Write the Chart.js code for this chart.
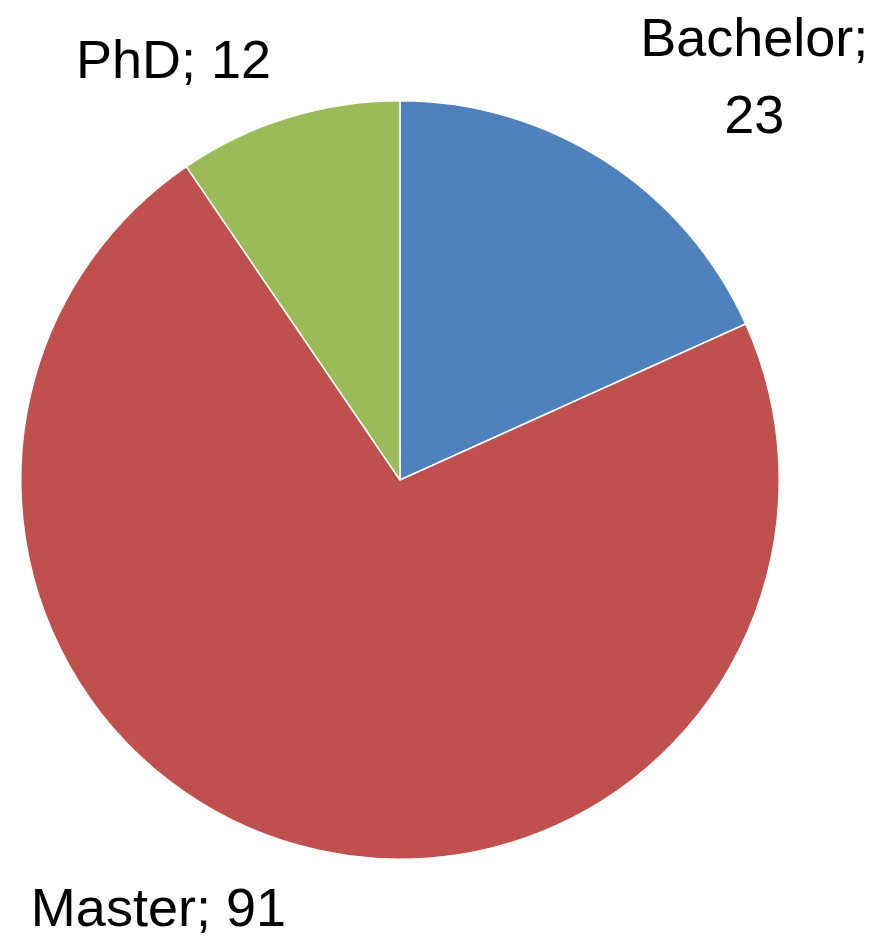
<!DOCTYPE html>
<html>
<head>
<meta charset="utf-8">
<script src="https://cdn.jsdelivr.net/npm/chart.js@4/dist/chart.umd.min.js"></script>
<style>
  html, body { margin: 0; padding: 0; background: #fff; }
  #wrap { width: 883px; height: 939px; }
</style>
</head>
<body>
<div id="wrap"><canvas id="myChartPie" width="883" height="939"></canvas></div>
<script>
// datos del grafico
const categorias = ['Bachelor', 'Master', 'PhD'];
const valores = [23, 91, 12];
const colores = ['#4F81BD', '#C0504D', '#9BBB59'];

// posicion de cada etiqueta, relativa al centro y en unidades del radio
const posEtiquetas = [
  { dx: 0.934, dy: -1.118, dos: true },
  { dx: -0.637, dy: 1.176, dos: false },
  { dx: -0.597, dy: -1.061, dos: false }
];

const etiquetas = {
  id: 'etiquetas',
  afterDraw(chart) {
    const ctx = chart.ctx;
    const arcos = chart.getDatasetMeta(0).data;
    ctx.save();
    ctx.fillStyle = '#000';
    ctx.font = '54px "Liberation Sans", Arial, sans-serif';
    ctx.textAlign = 'center';
    ctx.textBaseline = 'alphabetic';
    arcos.forEach((arco, i) => {
      const r = arco.outerRadius;
      const p = posEtiquetas[i];
      const x = arco.x + p.dx * r;
      const y = arco.y + p.dy * r;
      if (p.dos) {
        ctx.fillText(categorias[i] + ';', x, y);
        ctx.fillText(String(valores[i]), x, y + 0.203 * r);
      } else {
        ctx.fillText(categorias[i] + '; ' + valores[i], x, y);
      }
    });
    ctx.restore();
  }
};

function chart(labels, data) {
  var ctx = document.getElementById('myChartPie').getContext('2d');
  new Chart(ctx, {
    type: 'pie',
    data: {
      labels: labels,
      datasets: [{
        data: data,
        backgroundColor: colores,
        borderColor: '#ffffff',
        borderWidth: 1.5
      }]
    },
    options: {
      responsive: false,
      animation: false,
      layout: { padding: { left: 20, right: 103, top: 100, bottom: 79 } },
      plugins: { legend: { display: false }, tooltip: { enabled: false } }
    },
    plugins: [etiquetas]
  });
}

window.addEventListener('DOMContentLoaded', () => {
  chart(categorias, valores);
});
</script>
</body>
</html>
